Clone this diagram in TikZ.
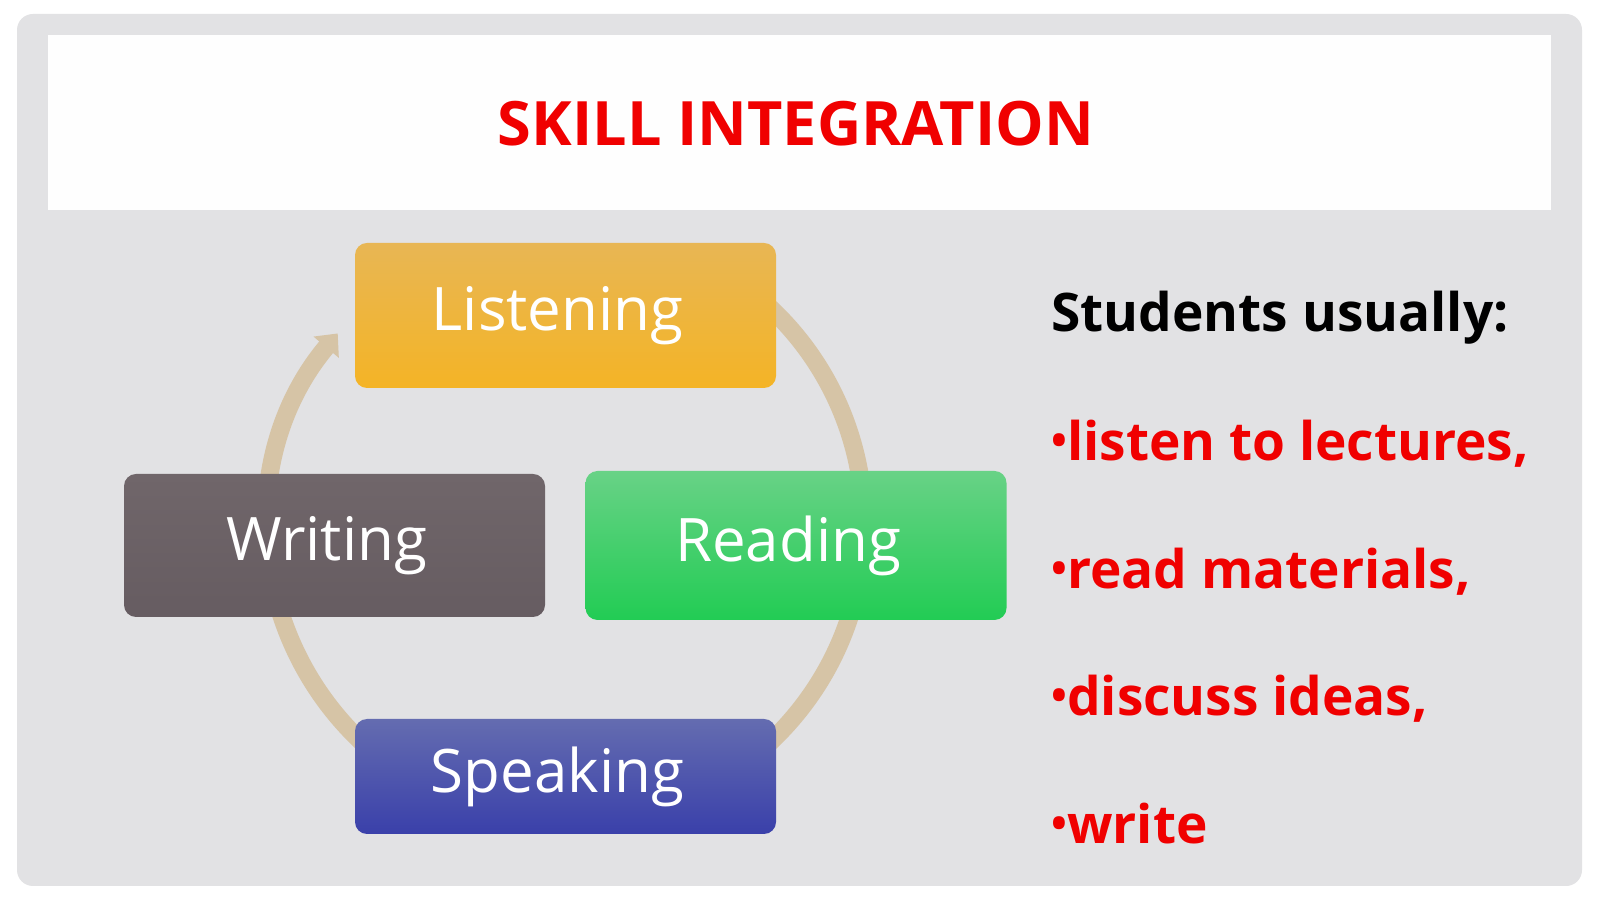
\documentclass[tikz,border=0pt]{standalone}
\usepackage{fontspec}
\setmainfont{Open Sans}
\usepackage{xcolor}
\usetikzlibrary{arrows.meta, shapes}

\definecolor{slidegray}{RGB}{226,226,228}
\definecolor{titlered}{RGB}{240,0,0}
\definecolor{cycletan}{RGB}{214,196,166}

\newcommand{\dotmark}{{\fontsize{21}{21}\selectfont\raisebox{2.8pt}{•}}}

\begin{document}
\begin{tikzpicture}[x=0.5pt, y=0.5pt,
    skill/.style={rounded corners=6pt, minimum width=210.5pt, inner sep=0pt,
        text=white, font=\fontsize{30}{36}\selectfont,
        execute at end node={\hspace{8pt}}},
    point/.style={anchor=base west, text=titlered, inner sep=0pt,
        font=\fontsize{26.6}{32}\selectfont\bfseries},
  ]
    % Slide background
    \fill[white] (0,0) rectangle (1600,899);
    \fill[slidegray, rounded corners=8pt] (17,13) rectangle (1582,885);
    \fill[white!99!gray] (48,689) rectangle (1551,864);
    \node[titlered, font=\fontsize{30.6}{36}\selectfont\bfseries] (title) at (796,775) {SKILL INTEGRATION};

    % Cycle arrow (behind the boxes)
    \draw[cycletan, line width=9pt, -{Triangle[length=9pt, width=16pt]}]
        (566,374) ++(50:298) arc[start angle=50, end angle=-220, radius=298];

    % Skill boxes
    \node[skill, minimum height=72.5pt, top color={rgb,255:red,232;green,182;blue,84}, middle color={rgb,255:red,212;green,152;blue,34}, bottom color={rgb,255:red,244;green,180;blue,38}] (listening) at (565.5,583.5) {Listening};
    \node[skill, minimum height=71.5pt, top color={rgb,255:red,112;green,102;blue,106}, middle color={rgb,255:red,92;green,84;blue,88}, bottom color={rgb,255:red,102;green,92;blue,97}] (writing) at (334.5,353.5) {Writing};
    \node[skill, minimum height=74.5pt, top color={rgb,255:red,104;green,210;blue,134}, middle color={rgb,255:red,58;green,176;blue,88}, bottom color={rgb,255:red,34;green,204;blue,84}] (reading) at (796,353.5) {Reading};
    \node[skill, minimum height=57.5pt, top color={rgb,255:red,100;green,108;blue,176}, middle color={rgb,255:red,60;green,68;blue,148}, bottom color={rgb,255:red,58;green,64;blue,170}] (speaking) at (565.5,122.5) {Speaking};

    % Right hand text
    \node[point, text=black] (students) at (1051,567) {Students usually:};
    \node[point] (listen) at (1051,438) {\dotmark listen to lectures,};
    \node[point] (read) at (1051,310) {\dotmark read materials,};
    \node[point] (discuss) at (1051,183) {\dotmark discuss ideas,};
    \node[point] (write) at (1051,55) {\dotmark write};
\end{tikzpicture}
\end{document}
